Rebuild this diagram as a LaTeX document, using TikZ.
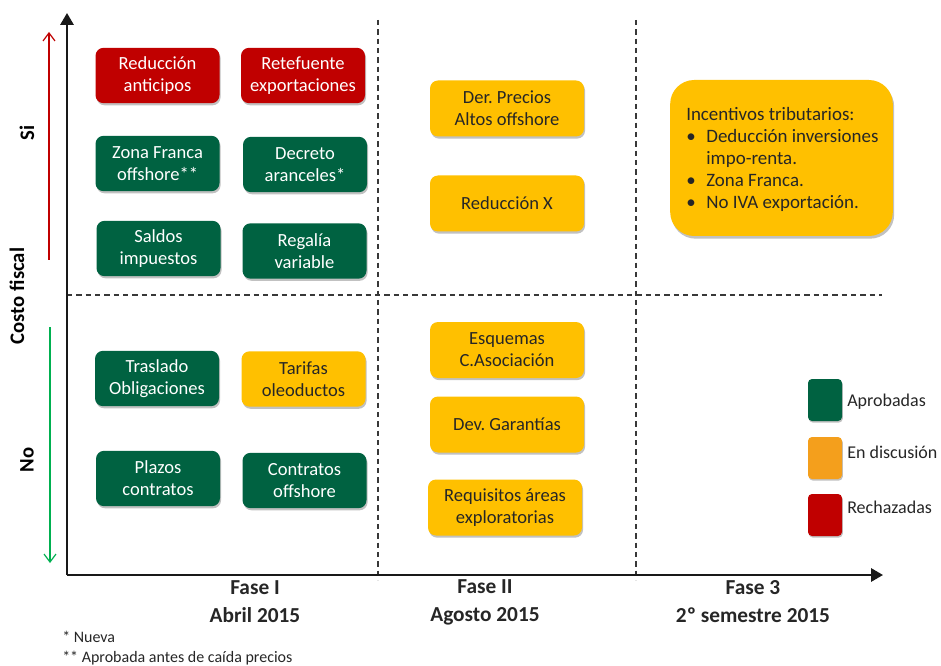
\documentclass[tikz,border=0pt]{standalone}
\usepackage{fontspec}
\setmainfont{Carlito}
\usetikzlibrary{arrows.meta,shadows}
\definecolor{rojo}{HTML}{C00000}
\definecolor{verde}{HTML}{006241}
\definecolor{amar}{HTML}{FFC000}
\definecolor{naranja}{HTML}{F49F1C}
\definecolor{vclaro}{HTML}{00B050}
\definecolor{guion}{HTML}{383838}
\definecolor{txt}{HTML}{262626}
\frenchspacing
\tikzset{
  sbox/.style={rounded corners=6pt, minimum width=93pt, minimum height=41.5pt, align=center,
    font=\fontsize{13.9}{16.5}\selectfont, inner sep=2pt,
    drop shadow={shadow xshift=0.8pt, shadow yshift=-1.6pt, opacity=0.35, fill=black!70}},
  wbox/.style={sbox, minimum width=115.5pt, minimum height=42pt},
  gbox/.style={fill=verde, text=white},
  rbox/.style={fill=rojo, text=white},
  ybox/.style={fill=amar, text=txt},
  axisline/.style={line width=1.6pt, black!90, -{Triangle[width=10pt,length=9pt]}},
  dline/.style={line width=1.1pt, guion, dash pattern=on 4pt off 3pt},
  lsq/.style={rounded corners=3pt, minimum width=25.5pt, minimum height=31.5pt,
    drop shadow={shadow xshift=0.6pt, shadow yshift=-1.2pt, opacity=0.35, fill=black!70}},
  ltxt/.style={anchor=west, font=\fontsize{13.5}{16}\selectfont, text=txt, inner sep=0pt},
  phase/.style={font=\bfseries\fontsize{16}{18}\selectfont, text=txt, align=center},
  sidelab/.style={font=\bfseries\fontsize{15.5}{18}\selectfont, rotate=90, text=black},
  foot/.style={anchor=west, font=\fontsize{12}{14}\selectfont, text=txt, inner sep=0pt}
}
\begin{document}
\begin{tikzpicture}[x=0.75pt,y=-0.75pt]
\useasboundingbox (0,0) rectangle (941,666);
% coordinates
\coordinate (O) at (67,575);
\coordinate (ytop) at (67,13);
\coordinate (xend) at (883,575);
\coordinate (v1t) at (378,20);
\coordinate (v1b) at (378,580);
\coordinate (v2t) at (636,20);
\coordinate (v2b) at (636,580);
\coordinate (hl) at (67,295);
\coordinate (hr) at (882,295);
\coordinate (ra) at (49,260);
\coordinate (rb) at (49,32);
\coordinate (ga) at (50,327);
\coordinate (gb) at (50,563);
% dashed grid
\draw[dline] (v1t) -- (v1b);
\draw[dline] (v2t) -- (v2b);
\draw[dline] (hl) -- (hr);
% axes
\draw[axisline] (O) -- (ytop);
\draw[axisline] (O) -- (xend);
% side arrows
\draw[rojo, line width=0.9pt, -{Straight Barb[width=9pt,length=6pt]}] (ra) -- (rb);
\draw[vclaro, line width=0.9pt, -{Straight Barb[width=9pt,length=6pt]}] (ga) -- (gb);
% side labels
\node[sidelab] (si) at (27,133) {Si};
\node[sidelab] (cf) at (17,296) {Costo fiscal};
\node[sidelab] (no) at (27,460) {No};
% Phase I boxes
\node[sbox,rbox] (b1) at (157.5,75.5) {Reducción\\anticipos};
\node[sbox,rbox] (b2) at (303,75.5) {Retefuente\\exportaciones};
\node[sbox,gbox] (b3) at (157.5,163.5) {Zona Franca\\offshore**};
\node[sbox,gbox] (b4) at (305,164.5) {Decreto\\aranceles*};
\node[sbox,gbox] (b5) at (158.5,248.5) {Saldos\\impuestos};
\node[sbox,gbox] (b6) at (304.5,251) {Regalía\\variable};
\node[sbox,gbox] (b7) at (157,378.5) {Traslado\\Obligaciones};
\node[sbox,ybox] (b8) at (303.5,379) {Tarifas\\oleoductos};
\node[sbox,gbox] (b9) at (158,478.5) {Plazos\\contratos};
\node[sbox,gbox] (b10) at (304.5,480.5) {Contratos\\offshore};
% Phase II boxes
\node[wbox,ybox] (c1) at (507,108.5) {Der. Precios\\Altos offshore};
\node[wbox,ybox] (c2) at (507,203.5) {Reducción X};
\node[wbox,ybox] (c3) at (507,350) {Esquemas\\C.Asociación};
\node[wbox,ybox] (c4) at (507,424.5) {Dev. Garantías};
\node[wbox,ybox] (c5) at (505,507.5) {Requisitos áreas\\exploratorias};
% Phase 3 box
\node[ybox, rounded corners=18pt, minimum width=167pt, minimum height=117pt,
  drop shadow={shadow xshift=1pt, shadow yshift=-2pt, opacity=0.35, fill=black!70}] (big) at (781.5,158) {};
\node[anchor=west, inner sep=0pt, text=txt, font=\fontsize{14.2}{16.5}\selectfont] (bigt) at (686,160)
{\begin{tabular}{@{}l@{\hspace{8pt}}l@{}}
\multicolumn{2}{@{}l@{}}{Incentivos tributarios:}\\
\textbullet & Deducción inversiones\\
 & impo-renta.\\
\textbullet & Zona Franca.\\
\textbullet & No IVA exportación.
\end{tabular}};
% legend
\node[lsq, fill=verde] (l1) at (825,400) {};
\node[lsq, fill=naranja] (l2) at (825,458) {};
\node[lsq, fill=rojo] (l3) at (825,515) {};
\node[ltxt] (t1) at (847,402) {Aprobadas};
\node[ltxt] (t2) at (847,452) {En discusión};
\node[ltxt] (t3) at (847,507) {Rechazadas};
% phase labels
\node[phase] (f1) at (255,602) {Fase I\\[3pt]Abril 2015};
\node[phase] (f2) at (485,602) {Fase II\\[3pt]Agosto 2015};
\node[phase] (f3) at (753,602) {Fase 3\\[3pt]2º semestre 2015};
% footnotes
\node[foot] (n1) at (62,637) {* Nueva};
\node[foot] (n2) at (62,658) {** Aprobada antes de caída precios};
\end{tikzpicture}
\end{document}
